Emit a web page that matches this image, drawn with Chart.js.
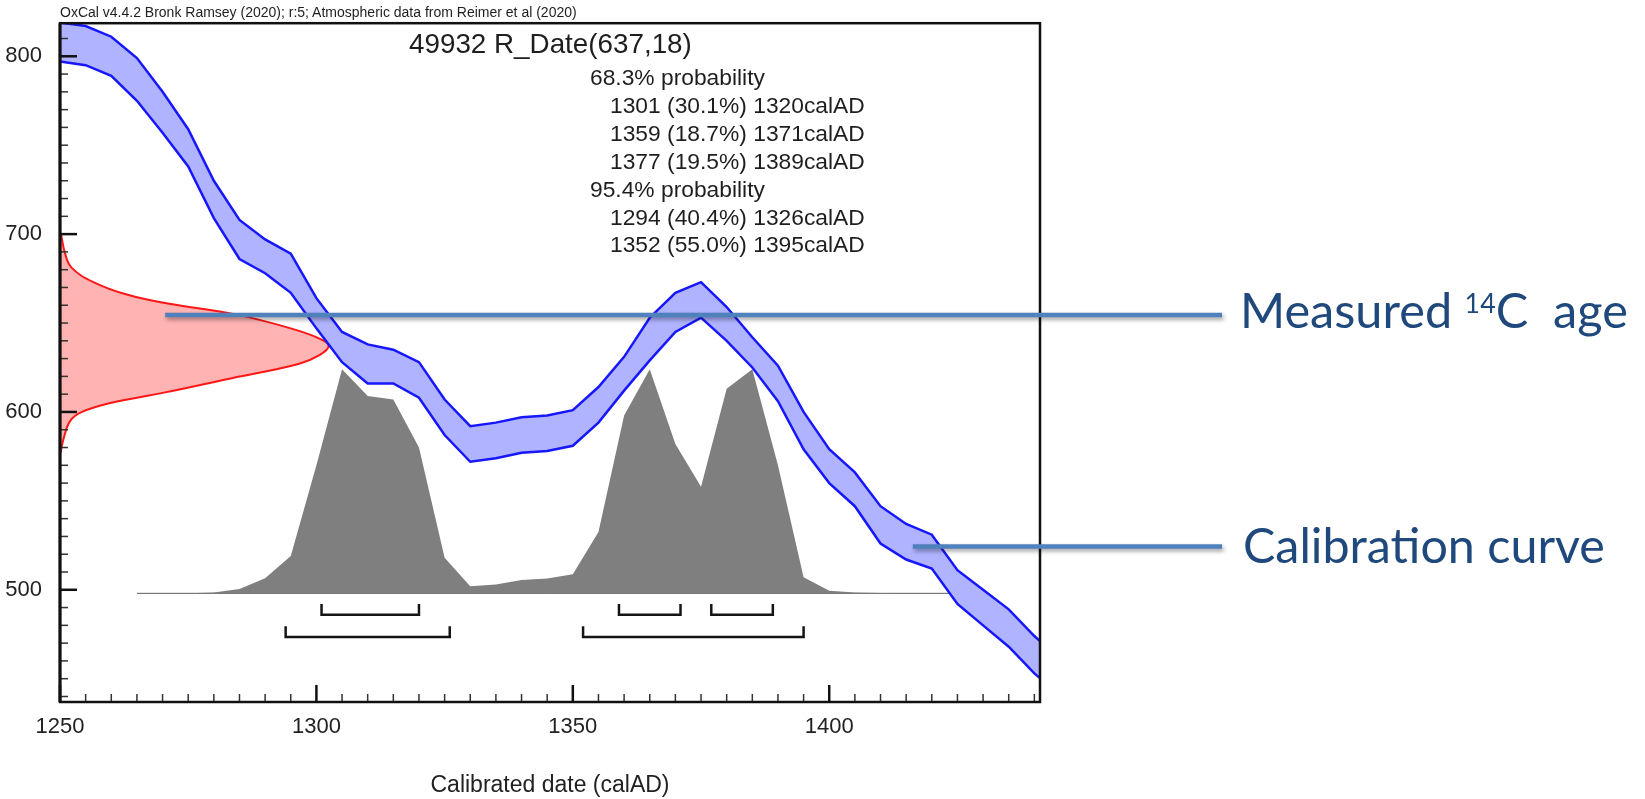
<!DOCTYPE html>
<html>
<head>
<meta charset="utf-8">
<title>OxCal calibration 49932</title>
<script src="https://cdn.jsdelivr.net/npm/chart.js@4.4.1/dist/chart.umd.min.js"></script>
<style>
  html, body { margin: 0; padding: 0; background: #fff; }
  #wrap { position: relative; width: 1645px; height: 799px; overflow: hidden; }
  #plot { position: absolute; left: 0; top: 0; width: 1645px; height: 799px; }
  .lbl { position: absolute; white-space: pre; line-height: 1; font-family: "Liberation Sans", Arial, Helvetica, sans-serif; color: #1e1e1e; }
  .note { position: absolute; white-space: pre; line-height: 1; font-family: Lato, "Open Sans", sans-serif; color: #1f497d; }
  .note sup { font-size: 0.55em; vertical-align: 0.55em; line-height: 0; }
</style>
</head>
<body>
<div id="wrap">
  <canvas id="plot" width="1645" height="799"></canvas>
</div>
<script>
// calibration curve band (IntCal20), every 5 years
const calYears = [1250, 1255, 1260, 1265, 1270, 1275, 1280, 1285, 1290, 1295,
                  1300, 1305, 1310, 1315, 1320, 1325, 1330, 1335, 1340, 1345,
                  1350, 1355, 1360, 1365, 1370, 1375, 1380, 1385, 1390, 1395,
                  1400, 1405, 1410, 1415, 1420, 1425, 1430, 1435, 1440, 1445];
const calUpper = [819, 817, 811, 799, 780, 759, 730, 708, 697, 689,
                  664, 645, 638, 635, 628, 607, 592, 594, 597, 598,
                  601, 614, 631, 653, 667, 673, 659, 642, 626, 600,
                  579, 566, 547, 537, 531, 511, 500, 489, 474, 461];
const calLower = [797, 795, 789, 775, 757, 738, 709, 686, 678, 667,
                  647, 628, 616, 616, 608, 587, 572, 574, 577, 578,
                  581, 594, 612, 629, 645, 653, 640, 625, 606, 579,
                  560, 547, 526, 517, 512, 492, 480, 468, 453, 441];

// calibrated probability distribution (grey), drawn up from its baseline
const distYears = [1265, 1270, 1275, 1280, 1285, 1290, 1295, 1300, 1305, 1310,
                   1315, 1320, 1325, 1330, 1335, 1340, 1345, 1350, 1355, 1360,
                   1365, 1370, 1375, 1380, 1385, 1390, 1395, 1400, 1405, 1410,
                   1415, 1420, 1425];
const distLevel = [498, 498, 498, 498.5, 500.5, 506.5, 519, 570, 624, 609,
                   607, 580, 518, 502, 503, 505.5, 506.3, 508.7, 532.5, 598,
                   624, 582, 558, 613, 624, 570, 507, 499.5, 498.5, 498.2,
                   498, 498, 498];
const distBase = 498;

// measured radiocarbon age R_Date(637,18), red curve on the age axis
const measAge   = [577, 585, 595, 600, 605, 611, 619, 627, 632, 637,
                   641, 647, 655, 661, 666, 673, 681, 689, 700];
const measReach = [1250.1, 1250.7, 1252, 1254.3, 1259.8, 1270.5, 1283.5, 1296.5, 1300.6, 1302.4,
                   1300.8, 1295, 1284, 1271, 1263, 1256.5, 1252.3, 1251, 1250.2];

// ranges
const range68 = [[1301, 1320], [1359, 1371], [1377, 1389]];
const pct68 = [30.1, 18.7, 19.5];
const range95 = [[1294, 1326], [1352, 1395]];
const pct95 = [40.4, 55.0];
const bracket68 = { y: 486, tip: 492 };
const bracket95 = { y: 473.5, tip: 479.5 };

const xTickValues = [1250, 1300, 1350, 1400];
const yTickValues = [500, 600, 700, 800];

// slide call-outs (age, start year), both run out to the right
const markerAge = [654.5, 524.3];
const markerFrom = [1270.5, 1416.3];
const markerTo = 1476.6;

const FONT = '"Liberation Sans", Arial, Helvetica, sans-serif';

function pts(xs, ys) {
  return xs.map((v, i) => ({ x: v, y: ys[i] }));
}

function bracketSet(r, lvl) {
  return {
    data: [{ x: r[0], y: lvl.tip }, { x: r[0], y: lvl.y }, { x: r[1], y: lvl.y }, { x: r[1], y: lvl.tip }],
    borderColor: '#151515', borderWidth: 2.5, pointRadius: 0, fill: false, order: 1, tension: 0,
  };
}

const datasets = [
  { label: 'upper', data: pts(calYears, calUpper), borderColor: '#1717ff', borderWidth: 2.5,
    pointRadius: 0, fill: false, order: 1, clip: 0 },
  { label: 'lower', data: pts(calYears, calLower), borderColor: '#1717ff', borderWidth: 2.5,
    pointRadius: 0, fill: '-1', backgroundColor: '#b0b3ff', order: 2, clip: 0 },
  { label: 'R_Date', indexAxis: 'y', data: pts(measReach, measAge), borderColor: '#ff1616', borderWidth: 2,
    backgroundColor: '#ffb3b3', fill: { value: 1250 }, tension: 0.4, pointRadius: 0, order: 3, clip: 0 },
  { label: 'posterior', data: pts(distYears, distLevel), borderWidth: 0, borderColor: 'rgba(0,0,0,0)',
    backgroundColor: '#7f7f7f', fill: { value: distBase }, pointRadius: 0, order: 4 },
  { label: 'base', data: [{ x: distYears[0], y: distBase }, { x: distYears[distYears.length - 1], y: distBase }],
    borderColor: '#5a5a5a', borderWidth: 1, pointRadius: 0, fill: false, order: 5 },
];
range68.forEach(r => datasets.push(bracketSet(r, bracket68)));
range95.forEach(r => datasets.push(bracketSet(r, bracket95)));

// frame with inward ticks, like OxCal draws it
const oxcalFrame = {
  id: 'oxcalFrame',
  afterDatasetsDraw(chart) {
    const { ctx, chartArea: a, scales: { x, y } } = chart;
    ctx.save();
    ctx.lineCap = 'butt';
    for (let v = Math.ceil(y.min / 10) * 10; v <= y.max; v += 10) {
      const major = v % 100 === 0;
      const py = y.getPixelForValue(v);
      ctx.strokeStyle = major ? '#111' : '#333';
      ctx.lineWidth = major ? 2.5 : 1.5;
      ctx.beginPath(); ctx.moveTo(a.left, py); ctx.lineTo(a.left + (major ? 17 : 8), py); ctx.stroke();
    }
    for (let v = Math.ceil(x.min / 5) * 5; v <= x.max; v += 5) {
      const major = v % 50 === 0;
      const px = x.getPixelForValue(v);
      ctx.strokeStyle = major ? '#111' : '#333';
      ctx.lineWidth = major ? 2.5 : 1.5;
      ctx.beginPath(); ctx.moveTo(px, a.bottom); ctx.lineTo(px, a.bottom - (major ? 17 : 8)); ctx.stroke();
    }
    ctx.strokeStyle = '#111';
    ctx.lineWidth = 2.5;
    ctx.strokeRect(a.left, a.top, a.right - a.left, a.bottom - a.top);
    ctx.lineWidth = 3;
    ctx.beginPath(); ctx.moveTo(a.left, a.top); ctx.lineTo(a.left, a.bottom); ctx.stroke();
    ctx.restore();
  },
  afterDraw(chart) {
    const { ctx, scales: { x, y } } = chart;
    ctx.save();
    ctx.strokeStyle = '#4f81bd';
    ctx.lineWidth = 4.5;
    ctx.shadowColor = 'rgba(0,0,0,0.38)';
    ctx.shadowBlur = 4;
    ctx.shadowOffsetX = 1.5;
    ctx.shadowOffsetY = 2.5;
    markerAge.forEach((age, i) => {
      const py = y.getPixelForValue(age);
      ctx.beginPath();
      ctx.moveTo(x.getPixelForValue(markerFrom[i]), py);
      ctx.lineTo(x.getPixelForValue(markerTo), py);
      ctx.stroke();
    });
    ctx.restore();
  }
};

const chart = new Chart(document.getElementById('plot'), {
  type: 'line',
  data: { datasets: datasets },
  options: {
    responsive: false,
    animation: false,
    devicePixelRatio: 1,
    layout: { padding: { top: 20, right: 605, left: 0, bottom: 0 } },
    plugins: { legend: { display: false }, tooltip: { enabled: false } },
    scales: {
      x: {
        type: 'linear', min: 1250, max: 1441.1,
        grid: { display: false }, border: { display: false },
        afterBuildTicks: s => { s.ticks = xTickValues.map(v => ({ value: v })); },
        afterFit: s => { s.height = 97; },
        ticks: { font: { family: FONT, size: 22 }, color: '#222', padding: 4, maxRotation: 0, callback: v => String(v) },
        title: { display: true, text: 'Calibrated date (calAD)', font: { family: FONT, size: 23 }, color: '#222', padding: 0 }
      },
      y: {
        type: 'linear', min: 436.9, max: 818.6,
        grid: { display: false }, border: { display: false },
        afterBuildTicks: s => { s.ticks = yTickValues.map(v => ({ value: v })); },
        afterFit: s => { s.width = 60; },
        ticks: { font: { family: FONT, size: 22 }, color: '#222', padding: 10, callback: v => String(v) }
      }
    }
  },
  plugins: [oxcalFrame]
});

// text on top of the chart, placed by its baseline
const wrap = document.getElementById('wrap');
function addText(cls, html, left, baseline, size, fitWidth) {
  const el = document.createElement('div');
  el.className = cls;
  el.style.left = left + 'px';
  el.style.top = '0px';
  el.style.fontSize = size + 'px';
  el.innerHTML = html;
  wrap.appendChild(el);
  if (fitWidth) {
    const w = el.getBoundingClientRect().width;
    el.style.fontSize = (size * fitWidth / w) + 'px';
  }
  const probe = document.createElement('span');
  probe.style.cssText = 'display:inline-block;width:0;height:0;';
  el.appendChild(probe);
  const off = probe.getBoundingClientRect().top - el.getBoundingClientRect().top;
  el.removeChild(probe);
  el.style.top = (baseline - off) + 'px';
  return el;
}

addText('lbl', 'OxCal v4.4.2 Bronk Ramsey (2020); r:5; Atmospheric data from Reimer et al (2020)', 60, 16.7, 14);
addText('lbl', '49932 R_Date(637,18)', 409, 53, 27.8);

const probLines = [['head', '68.3% probability']];
range68.forEach((r, i) => probLines.push(['range', r[0] + ' (' + pct68[i].toFixed(1) + '%) ' + r[1] + 'calAD']));
probLines.push(['head', '95.4% probability']);
range95.forEach((r, i) => probLines.push(['range', r[0] + ' (' + pct95[i].toFixed(1) + '%) ' + r[1] + 'calAD']));
probLines.forEach((ln, i) => {
  addText('lbl', ln[1], ln[0] === 'head' ? 590 : 610, 85.3 + i * 27.85, 22.8);
});

addText('note', 'Measured <sup>14</sup>C  age', 1240, 328, 48, 388);
addText('note', 'Calibration curve', 1243, 563, 48, 362);
</script>
</body>
</html>
